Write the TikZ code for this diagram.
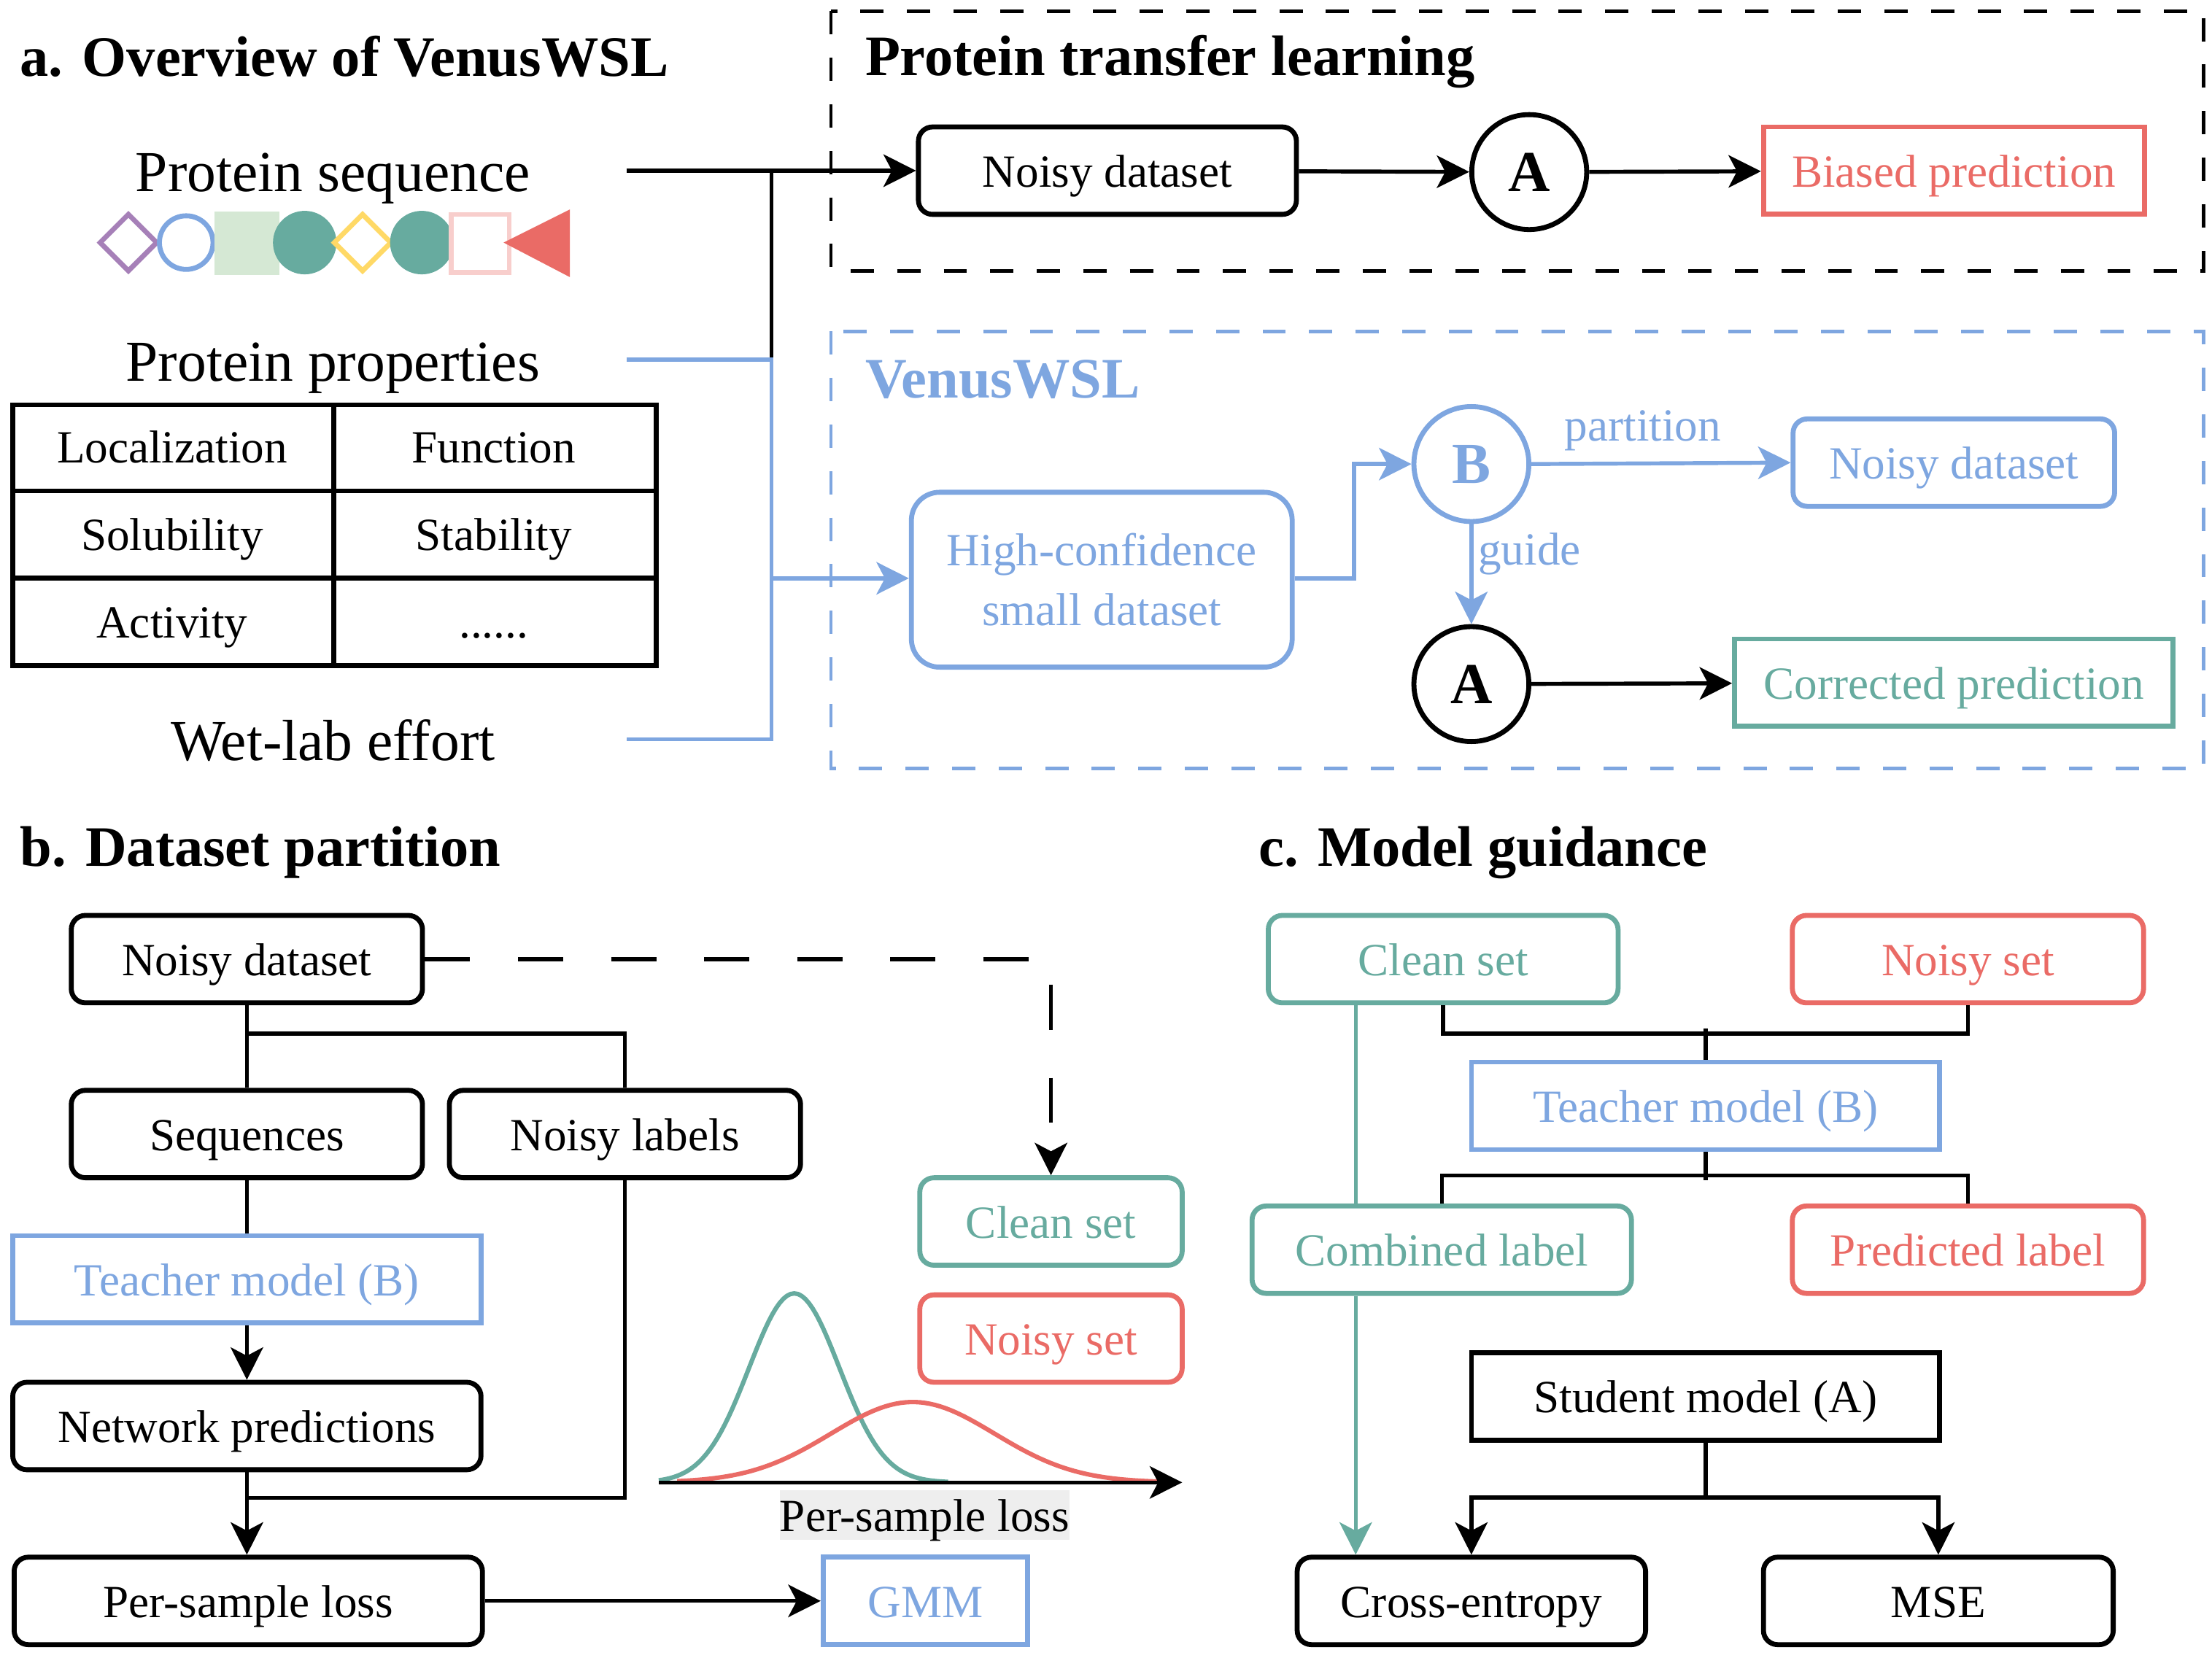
\documentclass[tikz,border=0pt]{standalone}
\usepackage{fontspec}
\setmainfont{Liberation Serif}
\usetikzlibrary{arrows.meta}

\definecolor{vblue}{HTML}{7EA6E0}
\definecolor{vgreen}{HTML}{67AB9F}
\definecolor{vred}{HTML}{EA6B66}
\definecolor{vpurple}{HTML}{A680B8}
\definecolor{vyellow}{HTML}{FFD966}
\definecolor{vpink}{HTML}{F8CECC}
\definecolor{vlgreen}{HTML}{D5E8D4}
\definecolor{vgray}{HTML}{EEEEEE}

\newcommand{\boxfont}{\fontsize{18.6pt}{22pt}\selectfont}
\newcommand{\largefont}{\fontsize{23.4pt}{28pt}\selectfont}
\newcommand{\headfont}{\fontsize{23.1pt}{28pt}\selectfont\bfseries}

\begin{document}
\begin{tikzpicture}[x=0.02cm, y=-0.02cm]
	\tikzstyle{roundbox} = [rectangle, rounded corners=0.2cm, draw=black, line width=2pt, minimum height=1.24cm, text centered, text height=17pt, text depth=3.7pt, font=\boxfont]
	\tikzstyle{sharpbox} = [rectangle, draw=black, line width=2pt, minimum height=1.24cm, text centered, text height=17pt, text depth=3.7pt, font=\boxfont]
	\tikzstyle{softbox} = [rectangle, rounded corners=0.4cm, draw=vblue, text=vblue, line width=2pt, align=center, font=\fontsize{18.6pt}{24pt}\selectfont]
	\tikzstyle{model} = [circle, draw=black, line width=2pt, minimum size=1.63cm, inner sep=0pt, font=\largefont\bfseries]
	\tikzstyle{heading} = [anchor=base west, font=\headfont, inner sep=0pt]
	\tikzstyle{source} = [anchor=base, font=\largefont, inner sep=0pt]
	\tikzstyle{cell} = [anchor=base, font=\boxfont, inner sep=0pt]
	\tikzstyle{link} = [line width=1.6pt]
	\tikzstyle{arrow} = [link, -{Stealth[length=0.46cm, width=0.46cm, inset=0.12cm]}]
	\tikzstyle{dasharrow} = [arrow, dash pattern=on 0.64cm off 0.68cm]
	\tikzstyle{groupframe} = [line width=1.4pt, dash pattern=on 0.33cm off 0.33cm]
	\useasboundingbox (0,0) rectangle (1568,1175);

	% a. overview
	\node (titleA) [heading] at (14,54) {a. Overview of VenusWSL};
	\node (protSeq) [source] at (236,136) {Protein sequence};
	\node (protProp) [source] at (236,270) {Protein properties};
	\node (wetLab) [source] at (236,539) {Wet-lab effort};

	% residues
	\draw[vpurple, line width=2pt] (91,152) -- (111,172) -- (91,192) -- (71,172) -- cycle;
	\draw[vblue, line width=2pt] (132,172) circle (19);
	\fill[vlgreen] (152,150) rectangle (198,195);
	\fill[vgreen] (216,172) circle (22.5);
	\draw[vyellow, line width=2pt] (257,152) -- (277,172) -- (257,192) -- (237,172) -- cycle;
	\fill[vgreen] (299,172) circle (22.5);
	\draw[vpink, line width=2pt] (320,152) rectangle (361,193);
	\fill[vred] (357,172) -- (404,148.5) -- (404,196.5) -- cycle;

	% property table
	\draw[line width=2pt] (9,287) rectangle (465,472);
	\draw[line width=2pt] (236.5,287) -- (236.5,472);
	\draw[line width=2pt] (9,348) -- (465,348);
	\draw[line width=2pt] (9,410) -- (465,410);
	\node (locCell) [cell] at (122,328) {Localization};
	\node (funCell) [cell] at (350,328) {Function};
	\node (solCell) [cell] at (122,390) {Solubility};
	\node (staCell) [cell] at (350,390) {Stability};
	\node (actCell) [cell] at (122,452) {Activity};
	\node (dotCell) [cell] at (350,452) {......};

	% protein transfer learning
	\draw[groupframe] (589,8) rectangle (1562,192);
	\node (titleTL) [heading] at (613,53.5) {Protein transfer learning};
	\node (noisyTop) [roundbox, minimum width=5.36cm] at (785,121) {Noisy dataset};
	\node (studentTop) [model] at (1084,122) {A};
	\node (biased) [sharpbox, draw=vred, text=vred, minimum width=5.4cm] at (1385,121) {Biased prediction};

	% VenusWSL
	\draw[groupframe, vblue] (589,235) rectangle (1562,545);
	\node (titleV) [heading, text=vblue] at (613,282) {VenusWSL};
	\node (highConf) [softbox, minimum width=5.4cm, minimum height=2.48cm] at (781,411) {High-confidence\\small dataset};
	\node (teacherTop) [model, draw=vblue, text=vblue] at (1043,329) {B};
	\node (noisyV) [roundbox, draw=vblue, text=vblue, minimum width=4.56cm] at (1385,328) {Noisy dataset};
	\node (studentV) [model] at (1043,485) {A};
	\node (corrected) [sharpbox, draw=vgreen, text=vgreen, minimum width=6.22cm] at (1385,484) {Corrected prediction};

	\coordinate (seqOut) at (444,121);
	\coordinate (propOut) at (444,255);
	\coordinate (wetOut) at (444,524);
	\coordinate (splitPt) at (547,121);
	\coordinate (mergePt) at (547,255);

	\draw [arrow] (seqOut) -- (noisyTop.west);
	\draw [link] (splitPt) -- (mergePt);
	\draw [link, vblue] (propOut) -- (mergePt) -- (mergePt |- wetOut) -- (wetOut);
	\draw [arrow, vblue] (mergePt |- 0,410) -- (highConf.west |- 0,410);
	\draw [arrow] (noisyTop) -- (studentTop);
	\draw [arrow] (studentTop) -- (biased);
	\draw [arrow, vblue] (highConf.east |- 0,410) -- ++(42,0) |- (teacherTop.west);
	\draw [arrow, vblue] (teacherTop.east) -- node[above=0.15cm, pos=0.43, font=\boxfont, text=vblue, inner sep=0pt] {partition} (noisyV.west);
	\draw [arrow, vblue] (teacherTop.south) -- node[right, pos=0.3, font=\boxfont, text=vblue, inner sep=2pt] {guide} (studentV.north);
	\draw [arrow] (studentV) -- (corrected);

	% b. dataset partition
	\node (titleB) [heading] at (14,614) {b. Dataset partition};
	\node (noisyB) [roundbox, minimum width=4.98cm] at (175,680) {Noisy dataset};
	\node (seqs) [roundbox, minimum width=4.98cm] at (175,804) {Sequences};
	\node (noisyLabels) [roundbox, minimum width=4.98cm] at (443,804) {Noisy labels};
	\node (teacherB) [sharpbox, draw=vblue, text=vblue, minimum width=6.64cm] at (175,907) {Teacher model (B)};
	\node (netPred) [roundbox, minimum width=6.64cm] at (175,1011) {Network predictions};
	\node (lossB) [roundbox, minimum width=6.64cm] at (176,1135) {Per-sample loss};
	\node (gmm) [sharpbox, draw=vblue, text=vblue, minimum width=2.9cm] at (656,1135) {GMM};
	\node (cleanB) [roundbox, draw=vgreen, text=vgreen, minimum width=3.72cm] at (745,866) {Clean set};
	\node (noisySetB) [roundbox, draw=vred, text=vred, minimum width=3.72cm] at (745,949) {Noisy set};

	\draw[vgreen, line width=1.8pt] plot[domain=467:672, samples=80] (\x, {1051-134*exp(-0.5*((\x-563)/32)*((\x-563)/32))});
	\draw[vred, line width=1.8pt] plot[domain=480:828, samples=100] (\x, {1051-57*exp(-0.5*((\x-647)/58)*((\x-647)/58))});
	\coordinate (axisStart) at (467,1051);
	\coordinate (axisEnd) at (838,1051);
	\draw [arrow] (axisStart) -- (axisEnd);
	\node (lossAxis) [fill=vgray, inner xsep=0pt, inner ysep=0pt, text height=16.5pt, text depth=3.6pt, font=\boxfont] at (655.5,1074.2) {Per-sample loss};

	\coordinate (lossJoin) at (176,1062);
	\draw [link] (noisyB.south) -- (seqs.north);
	\draw [link] (noisyB.south) ++(0,20) -| (noisyLabels.north);
	\draw [link] (seqs.south) -- (teacherB.north);
	\draw [arrow] (teacherB.south) -- (netPred.north);
	\draw [arrow] (netPred.south) -- (netPred.south |- lossB.north);
	\draw [link] (noisyLabels.south) |- (lossJoin);
	\draw [arrow] (lossB.east) -- (gmm.west);
	\draw [dasharrow] (noisyB.east) -| (cleanB.north);

	% c. model guidance
	\node (titleC) [heading] at (892,614) {c. Model guidance};
	\node (cleanC) [roundbox, draw=vgreen, text=vgreen, minimum width=4.96cm] at (1023,680) {Clean set};
	\node (noisySetC) [roundbox, draw=vred, text=vred, minimum width=4.98cm] at (1395,680) {Noisy set};
	\node (teacherC) [sharpbox, draw=vblue, text=vblue, minimum width=6.64cm] at (1209,784) {Teacher model (B)};
	\node (combined) [roundbox, draw=vgreen, text=vgreen, minimum width=5.38cm] at (1022,886) {Combined label};
	\node (predicted) [roundbox, draw=vred, text=vred, minimum width=4.98cm] at (1395,886) {Predicted label};
	\node (studentC) [sharpbox, minimum width=6.64cm] at (1209,990) {Student model (A)};
	\node (crossEnt) [roundbox, minimum width=4.94cm] at (1043,1135) {Cross-entropy};
	\node (mse) [roundbox, minimum width=4.96cm] at (1374,1135) {MSE};

	\coordinate (greenX) at (961,0);
	\draw [link] (cleanC.south) -- ++(0,20) -| (noisySetC.south);
	\draw [link] (teacherC.north) -- ++(0,-22);
	\draw [link] (teacherC.south) -- ++(0,20);
	\draw [link] (combined.north) -- ++(0,-20) -| (predicted.north);
	\draw [link, vgreen] (cleanC.south -| greenX) -- (combined.north -| greenX);
	\draw [arrow, vgreen] (combined.south -| greenX) -- (crossEnt.north -| greenX);
	\draw [arrow] (studentC.south) -- ++(0,39) -| (crossEnt.north);
	\draw [arrow] (studentC.south) ++(0,39) -| (mse.north);
\end{tikzpicture}
\end{document}
